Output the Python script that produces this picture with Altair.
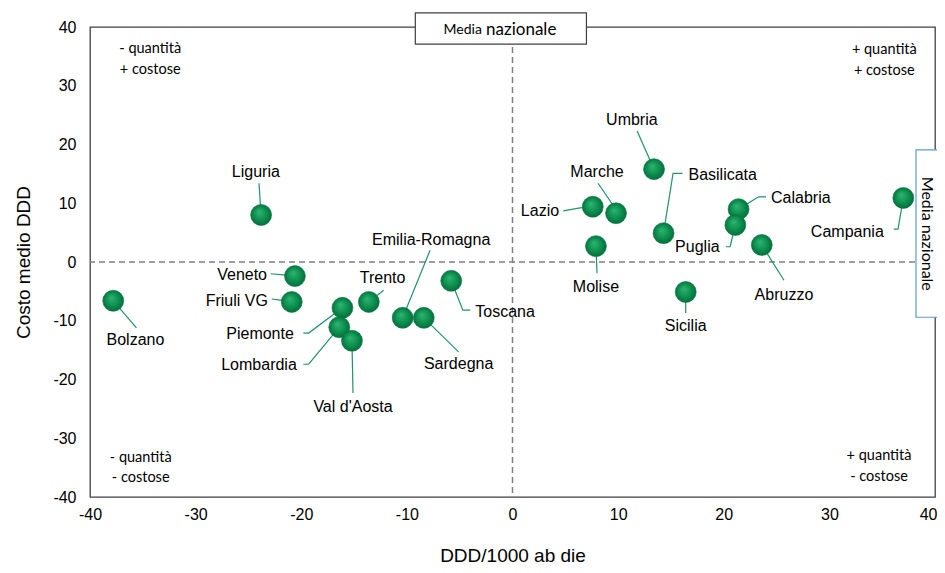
import altair as alt
import pandas as pd

# ---- data ----
regions = ["Bolzano", "Liguria", "Veneto", "Friuli VG", "Piemonte", "Lombardia",
           "Val d'Aosta", "Trento", "Emilia-Romagna", "Sardegna", "Toscana",
           "Lazio", "Marche", "Molise", "Umbria", "Basilicata", "Sicilia",
           "Calabria", "Puglia", "Abruzzo", "Campania"]
ddd = [-37.8, -23.8, -20.6, -20.9, -16.1, -16.4, -15.2, -13.6, -10.4, -8.4, -5.8,
       7.6, 9.8, 7.9, 13.4, 14.3, 16.4, 21.4, 21.1, 23.6, 37.0]
costo = [-6.6, 8.0, -2.4, -6.8, -7.8, -11.1, -13.4, -6.8, -9.5, -9.5, -3.2,
         9.4, 8.3, 2.7, 15.8, 4.9, -5.1, 9.0, 6.3, 2.9, 10.9]

# label anchor (centre of text) in data units
label_x = [-35.7, -24.3, -25.6, -26.1, -23.9, -24.0, -15.1, -12.3, -7.7, -5.1, -0.7,
           2.6, 8.0, 7.9, 11.3, 19.9, 16.4, 27.3, 17.5, 25.7, 31.7]
label_y = [-13.3, 15.3, -2.2, -6.6, -12.3, -17.5, -24.7, -2.7, 3.7, -17.4, -8.5,
           8.7, 15.3, -4.3, 24.2, 14.8, -10.9, 10.9, 2.6, -5.6, 5.1]

# leader line vertices (start near label, optional elbows), ending at the point
leader_pts = {
    "Bolzano": [(-35.6, -11.2)],
    "Liguria": [(-24.0, 13.4)],
    "Veneto": [(-22.9, -2.0), (-21.7, -2.2)],
    "Friuli VG": [(-22.8, -6.3), (-22.0, -6.5)],
    "Piemonte": [(-19.8, -12.1), (-19.3, -12.1)],
    "Lombardia": [(-19.8, -17.4), (-19.3, -17.4), (-17.0, -12.4)],
    "Val d'Aosta": [(-15.1, -22.3)],
    "Trento": [(-12.2, -4.8)],
    "Emilia-Romagna": [(-7.8, 2.0)],
    "Sardegna": [(-5.1, -15.3)],
    "Toscana": [(-4.0, -8.2), (-4.7, -8.2)],
    "Lazio": [(4.8, 8.7), (6.4, 9.2)],
    "Marche": [(8.1, 13.4), (9.5, 9.7)],
    "Molise": [(8.0, -1.9)],
    "Umbria": [(11.8, 22.3)],
    "Basilicata": [(16.1, 15.1), (15.2, 15.1)],
    "Sicilia": [(16.4, -8.7)],
    "Calabria": [(24.0, 11.1), (23.3, 11.1)],
    "Puglia": [(20.2, 2.6), (20.6, 2.6)],
    "Abruzzo": [(25.7, -3.1)],
    "Campania": [(36.1, 5.6), (36.5, 5.6)],
}

x_ticks = [-40, -30, -20, -10, 0, 10, 20, 30, 40]
y_ticks = [-40, -30, -20, -10, 0, 10, 20, 30, 40]

corner_text = ["- quantità", "+ costose", "+ quantità", "+ costose",
               "- quantità", "- costose", "+ quantità", "- costose"]
corner_x = [-34.3, -34.3, 35.2, 35.2, -35.2, -35.2, 34.7, 34.7]
corner_y = [36.3, 32.7, 36.1, 32.5, -33.4, -36.8, -33.0, -36.6]

# ---- tables ----
pts = pd.DataFrame({"region": regions, "x": ddd, "y": costo,
                    "lx": label_x, "ly": label_y})

rows = []
for r, px, py in zip(regions, ddd, costo):
    verts = leader_pts[r] + [(px, py)]
    for i, (vx, vy) in enumerate(verts):
        rows.append({"region": r, "o": i, "x": vx, "y": vy})
leaders = pd.DataFrame(rows)

corners = pd.DataFrame({"t": corner_text, "x": corner_x, "y": corner_y})

xs = alt.Scale(domain=[-40, 40], nice=False, zero=False)
ys = alt.Scale(domain=[-40, 40], nice=False, zero=False)

base_x = alt.X("x:Q", scale=xs, title="DDD/1000 ab die",
               axis=alt.Axis(values=x_ticks, labelExpr="'' + datum.value",
                             labelAlign=alt.condition("datum.value == 40",
                                                      alt.value("right"),
                                                      alt.value("center")),
                             labelOffset=alt.condition("datum.value == 40",
                                                       alt.value(2), alt.value(0))))
base_y = alt.Y("y:Q", scale=ys, title="Costo medio DDD",
               axis=alt.Axis(values=y_ticks, labelExpr="'' + datum.value"))

# dashed reference lines at the national average
ref = pd.DataFrame({"v": [0]})
vline = alt.Chart(ref).mark_rule(color="#7f7f7f", strokeDash=[6, 4], strokeWidth=1.5).encode(
    x=alt.X("v:Q", scale=xs))
hline = alt.Chart(ref).mark_rule(color="#7f7f7f", strokeDash=[6, 4], strokeWidth=1.5).encode(
    y=alt.Y("v:Q", scale=ys))

leader_layer = alt.Chart(leaders).mark_line(color="#1f9468", strokeWidth=1.2).encode(
    x=alt.X("x:Q", scale=xs), y=alt.Y("y:Q", scale=ys),
    detail="region:N", order="o:Q")

grad = alt.RadialGradient(
    gradient="radial", x1=0.4, y1=0.35, r1=0.0, x2=0.5, y2=0.5, r2=0.55,
    stops=[alt.GradientStop(offset=0, color="#2fb575"),
           alt.GradientStop(offset=0.6, color="#0b8d4c"),
           alt.GradientStop(offset=1, color="#05663a")])

points = alt.Chart(pts).mark_point(
    shape="circle", filled=True, size=440, fill=grad, opacity=1,
    stroke="#0a7a43", strokeWidth=0.6).encode(x=base_x, y=base_y)

labels = alt.Chart(pts).mark_text(font="Liberation Sans", fontSize=16, color="#000000",
                                   baseline="middle", align="center").encode(
    x=alt.X("lx:Q", scale=xs), y=alt.Y("ly:Q", scale=ys), text="region:N")

corner_layer = alt.Chart(corners).mark_text(font="Lato", fontSize=14.5, color="#000000",
                                            baseline="middle", align="center").encode(
    x=alt.X("x:Q", scale=xs), y=alt.Y("y:Q", scale=ys), text="t:N")

# "Media nazionale" boxes
top_box = pd.DataFrame({"x1": [-9.2], "x2": [7.0], "y1": [42.4], "y2": [37.1]})
top_rect = alt.Chart(top_box).mark_rect(fill="white", stroke="#404040", strokeWidth=1.2).encode(
    x=alt.X("x1:Q", scale=xs), x2="x2:Q", y=alt.Y("y1:Q", scale=ys), y2="y2:Q")
top_txt = pd.DataFrame({"t": ["Media", "nazionale"], "x": [-2.9, -2.5], "y": [39.5, 39.5]})
top_t1 = alt.Chart(top_txt.iloc[[0]]).mark_text(font="Lato", fontSize=14, align="right",
                                                  baseline="middle", color="#000").encode(
    x=alt.X("x:Q", scale=xs), y=alt.Y("y:Q", scale=ys), text="t:N")
top_t2 = alt.Chart(top_txt.iloc[[1]]).mark_text(font="Lato", fontSize=17, align="left",
                                                  baseline="middle", color="#000").encode(
    x=alt.X("x:Q", scale=xs), y=alt.Y("y:Q", scale=ys), text="t:N")

right_box = pd.DataFrame({"x1": [38.2], "x2": [46.0], "y1": [19.1], "y2": [-9.4]})
right_rect = alt.Chart(right_box).mark_rect(fill="white", stroke="#5b9bd5", strokeWidth=1.2).encode(
    x=alt.X("x1:Q", scale=xs), x2="x2:Q", y=alt.Y("y1:Q", scale=ys), y2="y2:Q")
right_txt = pd.DataFrame({"t": ["Media nazionale"], "x": [39.2], "y": [4.8]})
right_t = alt.Chart(right_txt).mark_text(font="Lato", fontSize=16, angle=90, align="center",
                                          baseline="middle", color="#000").encode(
    x=alt.X("x:Q", scale=xs), y=alt.Y("y:Q", scale=ys), text="t:N")

chart = alt.layer(
    vline, hline, leader_layer, points, labels, corner_layer,
    top_rect, top_t1, top_t2, right_rect, right_t
).properties(
    width=845, height=470,
    padding={"left": 82, "top": 19, "right": 2, "bottom": 68},
    autosize=alt.AutoSizeParams(type="none"),
    background="white",
).configure_view(
    stroke="#404040", strokeWidth=1.3
).configure_axis(
    grid=False, ticks=False, domain=False,
    labelFont="Liberation Sans", labelFontSize=16, labelColor="#000000",
    titleFont="Liberation Sans", titleFontSize=19, titleColor="#000000",
    titleFontWeight="normal",
).configure_axisX(
    labelPadding=9, titlePadding=24, labelFlush=False
).configure_axisY(
    labelPadding=14, titlePadding=19, labelFlush=False
)

chart.save("out.html", embed_options={"renderer": "svg", "actions": False})
